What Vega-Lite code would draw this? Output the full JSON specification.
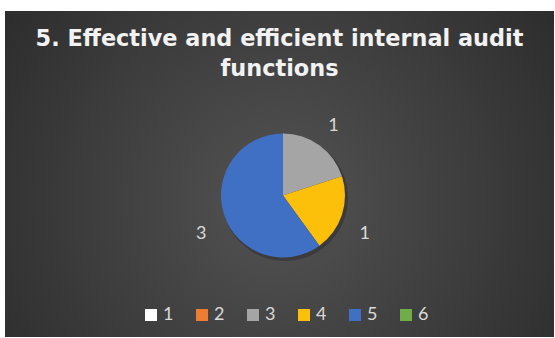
{
  "$schema": "https://vega.github.io/schema/vega-lite/v6.json",
  "width": 549,
  "height": 326,
  "autosize": {"type": "none"},
  "padding": {"left": 5, "top": 11, "right": 1, "bottom": 1},
  "background": "#ffffff",
  "config": {"view": {"stroke": null}},
  "title": {
    "text": ["5. Effective and efficient internal audit", "functions"],
    "font": "DejaVu Sans",
    "fontSize": 22.4,
    "fontWeight": "bold",
    "color": "#f2f2f2",
    "lineHeight": 30,
    "anchor": "middle",
    "baseline": "alphabetic",
    "offset": -87
  },
  "datasets": {
    "answers": [
      {"cat": "1", "value": 0},
      {"cat": "2", "value": 0},
      {"cat": "3", "value": 1},
      {"cat": "4", "value": 1},
      {"cat": "5", "value": 3},
      {"cat": "6", "value": 0}
    ]
  },
  "layer": [
    {
      "data": {"values": [{"panel": "background"}]},
      "mark": {
        "type": "rect",
        "color": {
          "gradient": "radial",
          "x1": 0.5, "y1": 0.55, "r1": 0,
          "x2": 0.5, "y2": 0.55, "r2": 0.72,
          "stops": [
            {"offset": 0, "color": "#535353"},
            {"offset": 1, "color": "#262626"}
          ]
        }
      }
    },
    {
      "data": {"name": "answers"},
      "mark": {"type": "arc", "outerRadius": 63, "xOffset": 5.5, "yOffset": 24, "color": "#000000", "opacity": 0.22},
      "encoding": {
        "theta": {"field": "value", "type": "quantitative", "stack": true},
        "order": {"field": "cat", "type": "ordinal"}
      }
    },
    {
      "data": {"name": "answers"},
      "mark": {"type": "arc", "outerRadius": 62, "xOffset": 3.5, "yOffset": 21.5},
      "encoding": {
        "theta": {"field": "value", "type": "quantitative", "stack": true},
        "order": {"field": "cat", "type": "ordinal"},
        "color": {
          "field": "cat",
          "type": "nominal",
          "scale": {
            "domain": ["1", "2", "3", "4", "5", "6"],
            "range": ["#ffffff", "#ed7d31", "#a5a5a5", "#fcbf0a", "#4070c4", "#70ad47"]
          },
          "legend": {
            "orient": "none",
            "legendX": 137,
            "legendY": 295,
            "direction": "horizontal",
            "title": null,
            "padding": 0,
            "symbolType": "square",
            "symbolSize": 144,
            "symbolStrokeWidth": 0,
            "symbolOpacity": 1,
            "labelFont": "Lato",
            "labelFontSize": 18,
            "labelColor": "#d9d9d9",
            "labelOffset": 3,
            "columnPadding": 19
          }
        }
      }
    },
    {
      "data": {"name": "answers"},
      "transform": [{"filter": "datum.value > 0"}],
      "mark": {
        "type": "text",
        "radius": 86,
        "xOffset": 3.5,
        "yOffset": 21.5,
        "dy": {"expr": "datum.cat == '3' ? 0 : 12"},
        "font": "Lato",
        "fontSize": 18,
        "color": "#d9d9d9"
      },
      "encoding": {
        "theta": {"field": "value", "type": "quantitative", "stack": true},
        "order": {"field": "cat", "type": "ordinal"},
        "text": {"field": "value", "type": "quantitative"}
      }
    }
  ]
}
